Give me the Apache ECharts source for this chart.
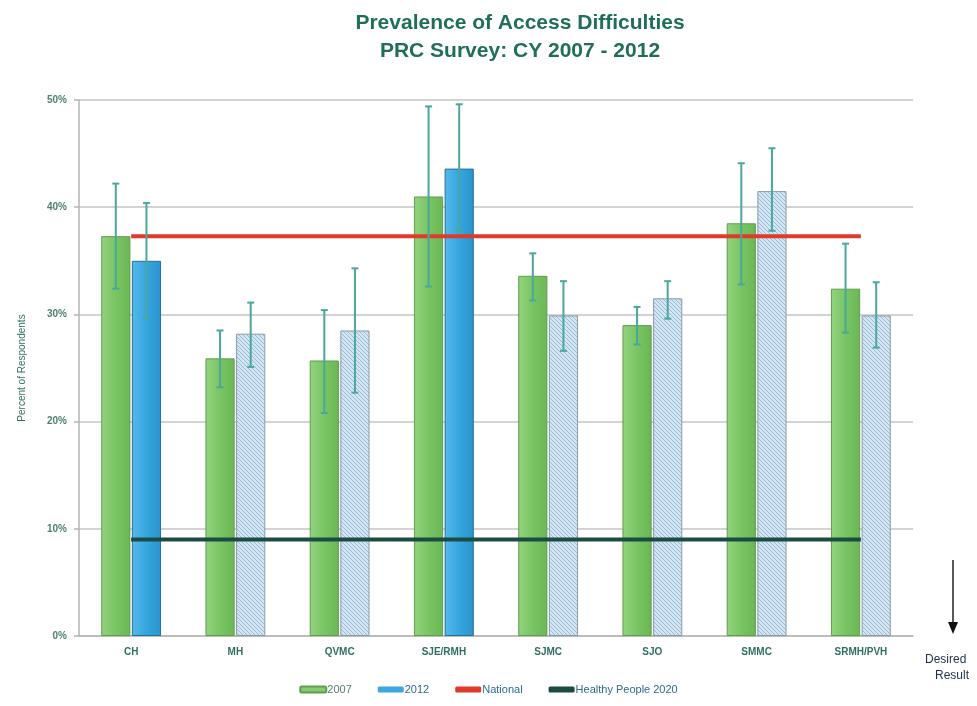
<!DOCTYPE html>
<html>
<head>
<meta charset="utf-8">
<script src="https://cdn.jsdelivr.net/npm/echarts@6/dist/echarts.min.js"></script>
<style>
html,body{margin:0;padding:0;background:#fff;}
#chart{width:977px;height:706px;}
</style>
</head>
<body>
<div id="chart"></div>
<script>
const categories = ['CH','MH','QVMC','SJE/RMH','SJMC','SJO','SMMC','SRMH/PVH'];
const values2007 = [37.3,25.9,25.7,41.0,33.6,29.0,38.5,32.4];
const low2007    = [32.4,23.2,20.8,32.6,31.3,27.2,32.8,28.3];
const high2007   = [42.2,28.5,30.4,49.4,35.7,30.7,44.1,36.6];
const values2012 = [35.0,28.2,28.5,43.6,29.9,31.5,41.5,29.9];
const low2012    = [29.6,25.1,22.7,37.8,26.6,29.6,37.8,26.9];
const high2012   = [40.4,31.1,34.3,49.6,33.1,33.1,45.5,33.0];
const significant2012 = [true,false,false,true,false,false,false,false];
const nationalValue = 37.3;
const healthyPeopleValue = 9.0;
const yMin = 0, yMax = 50, yInterval = 10;

// hatch pattern for non-significant 2012 bars
const hatch = document.createElement('canvas');
hatch.width = 4; hatch.height = 4;
(function(){
  const c = hatch.getContext('2d');
  c.fillStyle = '#d3e5f2';
  c.fillRect(0,0,4,4);
  c.strokeStyle = '#98bcd8';
  c.lineWidth = 1;
  c.beginPath();
  c.moveTo(-1,-1); c.lineTo(5,5);
  c.moveTo(-1,3); c.lineTo(1,5);
  c.moveTo(3,-1); c.lineTo(5,1);
  c.stroke();
})();

const greenFill = new echarts.graphic.LinearGradient(0,0,1,0,[
  {offset:0,color:'#93d37f'},{offset:0.5,color:'#79c563'},{offset:1,color:'#6bb655'}]);
const blueFill = new echarts.graphic.LinearGradient(0,0,1,0,[
  {offset:0,color:'#55b9ea'},{offset:0.5,color:'#36a6df'},{offset:1,color:'#2a93cc'}]);

const barW = 0.28, gapFrac = 0.05;
function errorSeries(name, lows, highs, sign){
  return {
    type:'custom', name:name, z:5,
    data: categories.map((c,i)=>[i, lows[i], highs[i]]),
    encode:{x:0, y:[1,2]},
    renderItem:function(params, api){
      const cw = api.size([1,0])[0];
      const off = sign * cw * barW * (1+gapFrac) / 2;
      const lo = api.coord([api.value(0), api.value(1)]);
      const hi = api.coord([api.value(0), api.value(2)]);
      const x = lo[0] + off;
      const cap = 3.5;
      const st = {stroke:'#4aa79b', lineWidth:2};
      return {type:'group', children:[
        {type:'line', shape:{x1:x,y1:lo[1],x2:x,y2:hi[1]}, style:st},
        {type:'line', shape:{x1:x-cap,y1:lo[1],x2:x+cap,y2:lo[1]}, style:st},
        {type:'line', shape:{x1:x-cap,y1:hi[1],x2:x+cap,y2:hi[1]}, style:st}
      ]};
    },
    silent:true, legendHoverLink:false
  };
}

const chart = echarts.init(document.getElementById('chart'), null, {renderer:'canvas'});
chart.setOption({
  backgroundColor:'#ffffff',
  animation:false,
  title:{
    text:'Prevalence of Access Difficulties\nPRC Survey: CY 2007 - 2012',
    left:515, top:4, textAlign:'center',
    textStyle:{fontFamily:'Liberation Sans, Arial', fontSize:21, fontWeight:'bold', color:'#1f6e58', lineHeight:28}
  },
  legend:{
    bottom:6, left:'center',
    itemWidth:26, itemHeight:6, itemGap:26,
    icon:'roundRect',
    textStyle:{fontFamily:'Liberation Sans, Arial', fontSize:11, color:'#2e6a8a', padding:[0,0,0,-4]},
    data:[
      {name:'2007', itemStyle:{color:'#86cc6d'}, textStyle:{color:'#5a7d70'}},
      {name:'2012', itemStyle:{color:'#3aa8df'}},
      {name:'National', itemStyle:{color:'#e03a2c'}},
      {name:'Healthy People 2020', itemStyle:{color:'#1b4c42'}}
    ]
  },
  grid:{left:79, right:64, top:100, bottom:70},
  xAxis:{
    type:'category', data:categories,
    axisLine:{show:true, lineStyle:{color:'#b5b5b5', width:1.5}},
    axisTick:{show:false},
    axisLabel:{fontFamily:'Liberation Sans, Arial', fontSize:10, fontWeight:'bold', color:'#2f6f62', margin:11}
  },
  yAxis:{
    type:'value', min:yMin, max:yMax, interval:yInterval,
    name:'Percent of Respondents', nameLocation:'middle', nameGap:52,
    nameTextStyle:{fontFamily:'Liberation Sans, Arial', fontSize:10, color:'#2f6f62'},
    axisLine:{show:true, lineStyle:{color:'#b5b5b5', width:1.5}},
    axisTick:{show:true, length:5, lineStyle:{color:'#b5b5b5', width:1.5}},
    axisLabel:{formatter:'{value}%', fontFamily:'Liberation Sans, Arial', fontSize:10, fontWeight:'bold', color:'#4f7f73', margin:12},
    splitLine:{show:true, lineStyle:{color:'#c4c4c4', width:1.5}}
  },
  series:[
    {
      name:'2007', type:'bar', barWidth:(barW*100)+'%', barGap:(gapFrac*100)+'%',
      data:values2007,
      itemStyle:{color:greenFill, borderColor:'#5f9e4d', borderWidth:1}
    },
    {
      name:'2012', type:'bar', barWidth:(barW*100)+'%', barGap:(gapFrac*100)+'%',
      data:values2012.map((v,i)=> significant2012[i]
        ? {value:v, itemStyle:{color:blueFill, borderColor:'#26709a', borderWidth:1}}
        : {value:v, itemStyle:{color:{image:hatch, repeat:'repeat'}, borderColor:'#8a9aa8', borderWidth:1}}),
      itemStyle:{color:'#3aa8df'}
    },
    {
      name:'National', type:'line', z:4, symbol:'none',
      data:categories.map(()=>nationalValue),
      lineStyle:{color:'#e03a2c', width:4}
    },
    {
      name:'Healthy People 2020', type:'line', z:4, symbol:'none',
      data:categories.map(()=>healthyPeopleValue),
      lineStyle:{color:'#1b4c42', width:4}
    },
    errorSeries('err2007', low2007, high2007, -1),
    errorSeries('err2012', low2012, high2012, 1)
  ],
  graphic:[
    {type:'line', shape:{x1:953,y1:560,x2:953,y2:624}, style:{stroke:'#222',lineWidth:1.5}},
    {type:'polygon', shape:{points:[[948,622],[958,622],[953,634]]}, style:{fill:'#111'}},
    {type:'text', left:925, top:652, style:{text:'Desired\n   Result', fontFamily:'Liberation Sans, Arial', fontSize:12, fill:'#1e2f4a', lineHeight:16}}
  ]
});
</script>
</body>
</html>
